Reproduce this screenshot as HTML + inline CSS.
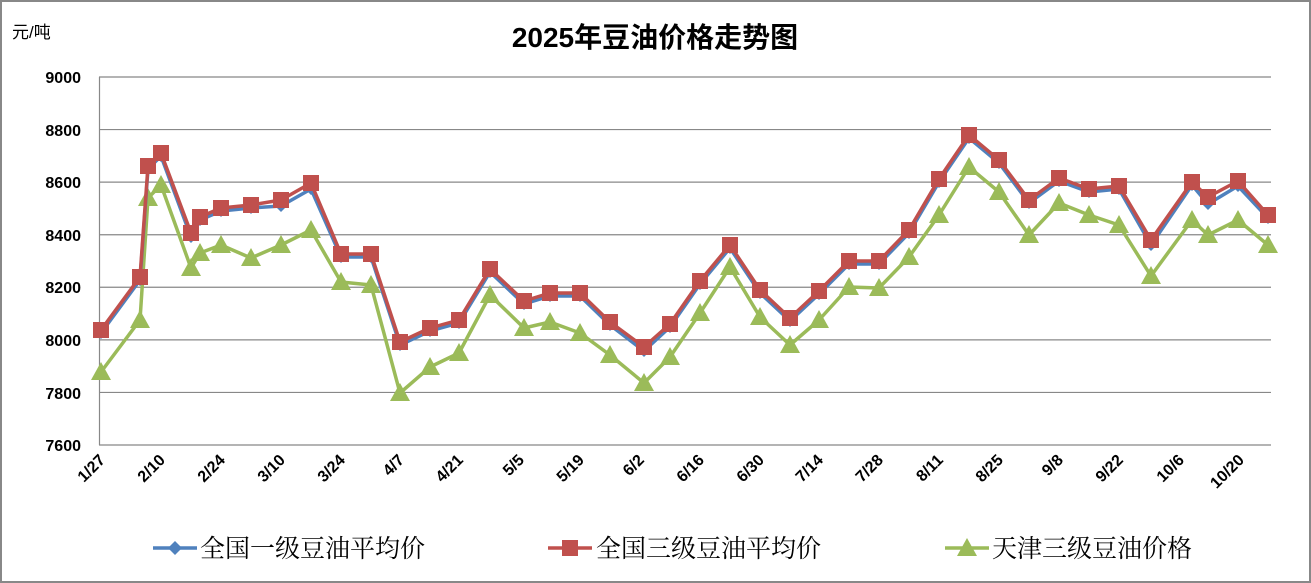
<!DOCTYPE html>
<html><head><meta charset="utf-8"><style>
html,body{margin:0;padding:0;background:#fff}
svg{display:block}
.yl{font:bold 16px "Liberation Sans",sans-serif;fill:#000;text-anchor:end}
.xl{font:bold 16px "Liberation Sans",sans-serif;fill:#000;text-anchor:end}
.lg{font:25px "Liberation Serif","Noto Serif CJK SC",serif;fill:#000}
</style></head><body>
<svg id="s" width="1311" height="583" xmlns="http://www.w3.org/2000/svg">
<rect x="1" y="1" width="1309" height="581" fill="#fff" stroke="#888" stroke-width="2"/>
<text x="655" y="47" text-anchor="middle" style="font:bold 28px 'Liberation Sans','Noto Sans CJK SC',sans-serif">2025年豆油价格走势图</text>
<text x="12" y="38" style="font:17px 'Liberation Sans','Noto Sans CJK SC',sans-serif">元/吨</text>
<g id="grid" stroke="#888" stroke-width="1.2"></g>
<line x1="99.5" y1="77" x2="99.5" y2="445" stroke="#888" stroke-width="1.2"/>
<text class="yl" x="81" y="83">9000</text>
<text class="yl" x="81" y="136">8800</text>
<text class="yl" x="81" y="188">8600</text>
<text class="yl" x="81" y="241">8400</text>
<text class="yl" x="81" y="293">8200</text>
<text class="yl" x="81" y="346">8000</text>
<text class="yl" x="81" y="399">7800</text>
<text class="yl" x="81" y="451">7600</text>
<g id="series"></g>
<line x1="153" y1="548" x2="197" y2="548" stroke="#4f81bd" stroke-width="3.5"/>
<path d="M175 541 L182 548 L175 555 L168 548Z" fill="#4f81bd"/>
<text class="lg" x="200" y="557">全国一级豆油平均价</text>
<line x1="548" y1="548" x2="592" y2="548" stroke="#c0504d" stroke-width="3.5"/>
<rect x="562" y="540" width="16" height="16" fill="#c0504d"/>
<text class="lg" x="596" y="557">全国三级豆油平均价</text>
<line x1="945" y1="548" x2="989" y2="548" stroke="#9bbb59" stroke-width="3.5"/>
<path d="M967 538 L977 556 L957 556Z" fill="#9bbb59"/>
<text class="lg" x="992" y="557">天津三级豆油价格</text>
<g class="xl">
<text transform="translate(106,461) rotate(-45)">1/27</text>
<text transform="translate(166,461) rotate(-45)">2/10</text>
<text transform="translate(226,461) rotate(-45)">2/24</text>
<text transform="translate(286,461) rotate(-45)">3/10</text>
<text transform="translate(346,461) rotate(-45)">3/24</text>
<text transform="translate(405,461) rotate(-45)">4/7</text>
<text transform="translate(464,461) rotate(-45)">4/21</text>
<text transform="translate(525,461) rotate(-45)">5/5</text>
<text transform="translate(585,461) rotate(-45)">5/19</text>
<text transform="translate(645,461) rotate(-45)">6/2</text>
<text transform="translate(705,461) rotate(-45)">6/16</text>
<text transform="translate(765,461) rotate(-45)">6/30</text>
<text transform="translate(824,461) rotate(-45)">7/14</text>
<text transform="translate(884,461) rotate(-45)">7/28</text>
<text transform="translate(944,461) rotate(-45)">8/11</text>
<text transform="translate(1004,461) rotate(-45)">8/25</text>
<text transform="translate(1064,461) rotate(-45)">9/8</text>
<text transform="translate(1124,461) rotate(-45)">9/22</text>
<text transform="translate(1185,461) rotate(-45)">10/6</text>
<text transform="translate(1245,461) rotate(-45)">10/20</text>
</g>
</svg>
<script>
var NS="http://www.w3.org/2000/svg";
function el(t,a,p){var e=document.createElementNS(NS,t);for(var k in a)e.setAttribute(k,a[k]);p.appendChild(e);return e;}
var g=document.getElementById('grid');
for(var i=0;i<8;i++){var y=77+i*368/7;el('line',{x1:99,y1:y,x2:1271,y2:y},g);}
var X=[101,140,148,161,191,200,221,251,281,311,341,371,400,430,459,490,524,550,580,610,644,670,700,730,760,790,819,849,879,909,939,969,999,1029,1059,1089,1119,1151,1192,1208,1238,1268];
var R=[330,277,166,153,233,217,208,205,200,183,254,254,342,328,320,269,301,293,293,322,347,324,281,245,290,318,291,261,261,230,179,135,160,200,178,189,186,240,182,197,181,215];
var G=[372,320,198,185,268,253,245,258,245,230,282,285,393,367,353,295,328,322,333,355,383,357,313,267,317,345,320,287,288,257,215,167,192,235,203,215,225,276,220,235,220,245];
var B=R.map(function(v){return v+3;});
B[4]=237;B[8]=206;B[9]=189;B[20]=351;B[37]=245;B[39]=204;B[40]=186;
var s=document.getElementById('series');
function line(Y,c){el('polyline',{points:X.map(function(x,i){return x+','+Y[i]}).join(' '),fill:'none',stroke:c,'stroke-width':3.5,'stroke-linejoin':'round'},s);}
line(G,'#9bbb59');
X.forEach(function(x,i){var y=G[i];el('path',{d:'M'+x+' '+(y-10)+' L'+(x+10)+' '+(y+8)+' L'+(x-10)+' '+(y+8)+'Z',fill:'#9bbb59'},s);});
line(B,'#4f81bd');
X.forEach(function(x,i){var y=B[i];el('path',{d:'M'+x+' '+(y-6)+' L'+(x+6)+' '+y+' L'+x+' '+(y+6)+' L'+(x-6)+' '+y+'Z',fill:'#4f81bd'},s);});
line(R,'#c0504d');
X.forEach(function(x,i){el('rect',{x:x-8,y:R[i]-8,width:16,height:16,fill:'#c0504d'},s);});
</script>
</body></html>
